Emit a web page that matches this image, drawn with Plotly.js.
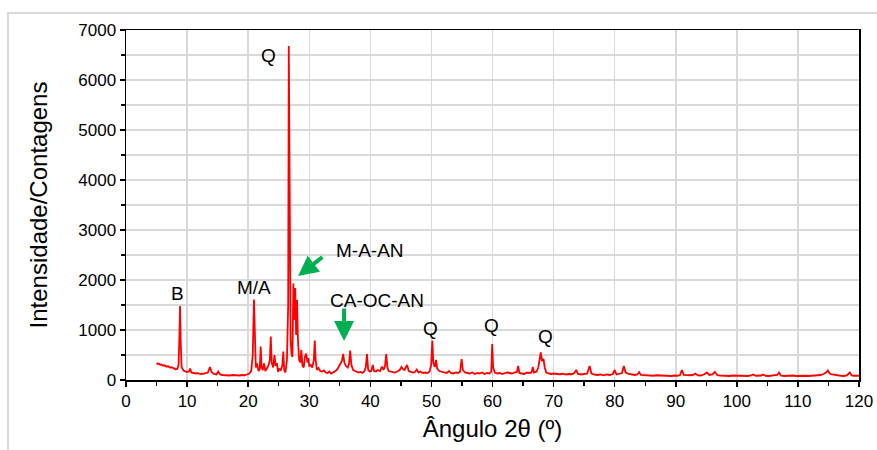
<!DOCTYPE html>
<html>
<head>
<meta charset="utf-8">
<script src="https://cdn.plot.ly/plotly-3.0.1.min.js"></script>
<style>
  html, body { margin: 0; padding: 0; background: #fff; }
  #wrap { position: relative; width: 877px; height: 450px; overflow: hidden; }
  #chart { width: 877px; height: 450px; }
  #frame { position: absolute; left: 7px; top: 12px; width: 900px; height: 480px;
           border: 2px solid #d9d9d9; pointer-events: none; box-sizing: border-box; }
</style>
</head>
<body>
<div id="wrap">
  <div id="chart"></div>
  <div id="frame"></div>
</div>
<script>
// 2θ angle (degrees)
const angle = [
  5.0,5.2,5.4,5.6,5.8,6.0,6.3,6.6,6.9,7.2,7.5,7.8,8.1,8.4,8.6,8.75,8.85,8.95,9.1,9.4,9.7,10.0,10.3,10.5,10.7,11.0,11.4,11.8,12.2,12.6,13.0,13.4,13.75,14.0,14.4,14.8,15.1,15.4,15.8,16.2,16.6,17.0,17.4,17.8,18.2,18.6,19.0,19.4,19.8,20.2,20.5,20.75,20.95,21.1,21.25,21.45,21.7,21.9,22.05,22.2,22.4,22.6,22.8,23.0,23.3,23.55,23.7,23.85,24.1,24.3,24.5,24.7,24.9,25.1,25.35,25.6,25.75,25.9,26.1,26.35,26.55,26.65,26.8,26.95,27.1,27.25,27.4,27.55,27.7,27.85,28.0,28.15,28.35,28.55,28.7,28.9,29.1,29.3,29.5,29.7,29.85,30.0,30.25,30.5,30.75,30.9,31.05,31.25,31.5,31.8,32.1,32.4,32.7,33.0,33.3,33.6,33.9,34.2,34.5,34.8,35.1,35.35,35.55,35.75,36.0,36.3,36.5,36.7,36.9,37.2,37.5,37.8,38.1,38.4,38.7,39.0,39.25,39.45,39.65,39.9,40.15,40.4,40.6,40.9,41.2,41.6,41.9,42.15,42.4,42.6,42.8,43.0,43.3,43.7,44.0,44.4,44.8,45.1,45.3,45.6,46.0,46.3,46.7,47.0,47.3,47.6,47.9,48.2,48.6,49.0,49.4,49.7,49.95,50.15,50.3,50.55,50.75,50.95,51.3,51.7,52.1,52.5,52.9,53.2,53.6,54.0,54.4,54.7,54.95,55.15,55.5,55.9,56.3,56.7,57.1,57.5,57.9,58.3,58.7,59.1,59.5,59.8,59.95,60.1,60.4,60.8,61.2,61.6,62.0,62.4,62.8,63.2,63.6,64.0,64.2,64.4,64.8,65.2,65.6,66.0,66.4,66.6,66.8,67.2,67.5,67.75,67.9,68.1,68.35,68.55,68.8,69.2,69.6,70.0,70.5,71.0,71.5,72.0,72.5,73.0,73.4,73.7,74.0,74.5,75.0,75.5,75.9,76.2,76.7,77.2,77.7,78.2,78.7,79.2,79.7,80.0,80.3,80.8,81.2,81.5,81.8,82.3,82.8,83.3,83.7,84.0,84.3,84.8,85.3,85.8,86.3,86.8,87.3,87.8,88.3,88.8,89.3,89.8,90.3,90.7,91.0,91.3,91.8,92.3,92.8,93.2,93.6,94.1,94.6,95.1,95.5,96.0,96.4,96.8,97.3,97.8,98.3,98.8,99.3,99.8,100.3,100.8,101.3,101.8,102.3,102.7,103.1,103.6,104.0,104.3,104.7,105.2,105.7,106.2,106.6,106.9,107.2,107.7,108.2,108.7,109.2,109.7,110.2,110.7,111.2,111.7,112.2,112.7,113.2,113.7,114.2,114.6,114.9,115.2,115.6,116.0,116.5,117.0,117.5,118.0,118.5,118.8,119.2,119.6,120.0
];
// Intensity (counts)
const counts = [
  340,320,330,300,310,290,295,270,275,250,255,230,215,220,300,900,1480,800,260,190,175,160,170,230,150,140,130,135,120,125,130,150,260,160,120,110,170,110,100,95,100,90,100,95,100,90,100,95,110,130,180,500,1610,700,250,330,180,220,670,250,200,330,180,220,280,400,870,350,250,500,280,340,160,220,200,300,570,200,150,400,1500,6680,2500,800,520,460,1930,1200,1840,900,1600,800,400,350,600,280,250,470,530,350,440,280,300,250,400,790,400,200,240,180,170,190,150,140,170,130,150,180,200,260,320,380,520,350,280,250,320,590,300,200,180,170,150,160,140,170,250,520,200,170,180,300,180,170,200,180,270,200,280,520,250,180,170,160,150,170,200,260,220,200,300,180,170,150,160,210,150,170,140,150,140,170,300,790,350,260,400,230,180,160,150,140,180,140,130,150,140,170,420,200,150,140,130,150,120,140,130,150,120,140,130,170,720,250,150,130,140,120,130,150,140,130,150,160,280,140,130,120,150,140,150,260,150,170,250,400,550,380,420,250,150,130,120,130,120,115,125,110,120,115,140,200,120,110,120,130,280,130,110,100,110,95,110,100,120,200,110,120,140,280,150,120,110,100,110,160,100,95,90,100,85,95,90,85,95,90,80,90,85,100,200,100,90,95,100,130,95,90,110,150,100,110,160,95,90,85,90,80,90,85,80,90,85,80,90,110,85,80,90,110,85,80,90,85,100,150,90,80,85,80,90,80,85,75,85,80,85,80,90,100,120,150,190,130,110,100,90,85,80,90,150,90,85,90,85
];
const xTicks = [0,10,20,30,40,50,60,70,80,90,100,110,120];
const yTicks = [0,1000,2000,3000,4000,5000,6000,7000];
const peakLabels = ["Q","B","M/A","M-A-AN","CA-OC-AN","Q","Q","Q"];
const peakLabelX = [23.4, 8.5, 21.0, 39.9, 41.1, 49.8, 59.8, 68.6];
const peakLabelY = [6500, 1740, 1860, 2600, 1600, 1040, 1100, 880];
// green arrows: tail -> tip
const arrowTailX = [32.4, 35.7];
const arrowTailY = [2480, 1460];
const arrowTipX = [28.16, 35.7];
const arrowTipY = [2080, 780];

const font = "Liberation Sans, Arial, sans-serif";

const trace = {
  x: angle, y: counts, type: "scatter", mode: "lines",
  line: { color: "#ff0000", width: 1.8 },
  hoverinfo: "skip", showlegend: false
};

const annotations = [];
peakLabels.forEach((t, i) => {
  annotations.push({
    x: peakLabelX[i], y: peakLabelY[i], xref: "x", yref: "y",
    text: t, showarrow: false,
    font: { family: font, size: 19, color: "#000" }
  });
});
arrowTipX.forEach((_, i) => {
  annotations.push({
    x: arrowTipX[i], y: arrowTipY[i], xref: "x", yref: "y",
    ax: arrowTailX[i], ay: arrowTailY[i], axref: "x", ayref: "y",
    text: "", showarrow: true, arrowhead: 2, arrowsize: 1, arrowwidth: 4,
    arrowcolor: "#00b050", standoff: 0, startstandoff: 0
  });
});

const layout = {
  width: 877, height: 450,
  margin: { l: 126, r: 18, t: 30, b: 70 },
  paper_bgcolor: "#ffffff", plot_bgcolor: "#ffffff",
  font: { family: font, color: "#000" },
  xaxis: {
    range: [0, 120], tickvals: xTicks, ticktext: xTicks.map(String),
    showgrid: true, gridcolor: "#d9d9d9", gridwidth: 1.5,
    showline: true, linecolor: "#000", linewidth: 1.5, mirror: true,
    ticks: "outside", ticklen: 5, tickwidth: 1.5, tickcolor: "#000",
    minor: { dtick: 5, tick0: 0, ticks: "outside", ticklen: 4, tickwidth: 1.3, tickcolor: "#000", showgrid: false },
    tickfont: { family: font, size: 17, color: "#000" },
    title: { text: "Ângulo 2θ (º)", font: { family: font, size: 24, color: "#000" }, standoff: 10 },
    zeroline: false, fixedrange: true
  },
  yaxis: {
    range: [0, 7000], tickvals: yTicks, ticktext: yTicks.map(String),
    showgrid: true, gridcolor: "#d9d9d9", gridwidth: 1.5,
    showline: true, linecolor: "#000", linewidth: 1.5, mirror: true,
    ticks: "outside", ticklen: 5, tickwidth: 1.5, tickcolor: "#000",
    minor: { dtick: 500, tick0: 0, ticks: "outside", ticklen: 4, tickwidth: 1.3, tickcolor: "#000", showgrid: true, gridcolor: "#d9d9d9", gridwidth: 1.5 },
    tickfont: { family: font, size: 17, color: "#000" },
    title: { text: "Intensidade/Contagens", font: { family: font, size: 24, color: "#000" }, standoff: 24 },
    zeroline: false, fixedrange: true
  },
  annotations: annotations
};

Plotly.newPlot("chart", [trace], layout, { staticPlot: true, displayModeBar: false });
</script>
</body>
</html>
